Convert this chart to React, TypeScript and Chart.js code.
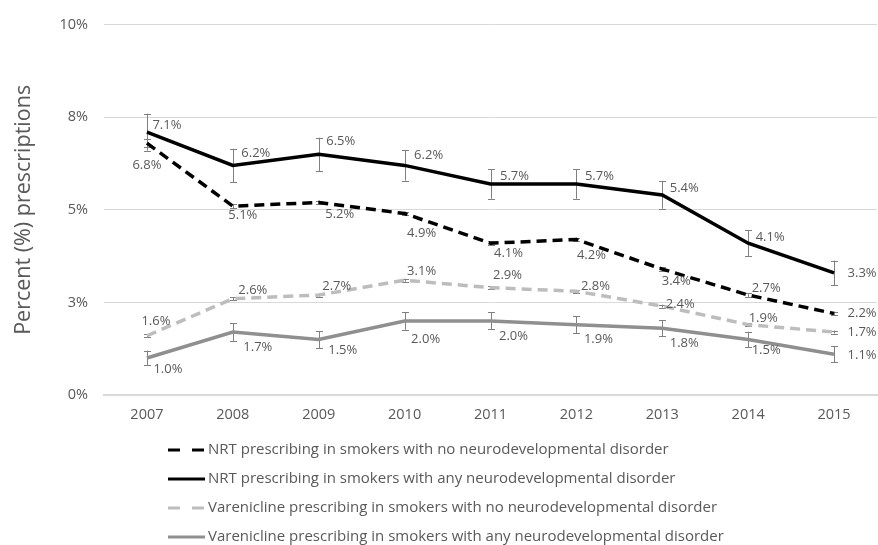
import React, { useEffect, useRef } from "react";
import { Chart, registerables } from "chart.js";

Chart.register(...registerables);

// Years on the x axis
const years = ["2007", "2008", "2009", "2010", "2011", "2012", "2013", "2014", "2015"];

// Percent of smokers prescribed each treatment
const nrtNoNd = [6.8, 5.1, 5.2, 4.9, 4.1, 4.2, 3.4, 2.7, 2.2];
const nrtAnyNd = [7.1, 6.2, 6.5, 6.2, 5.7, 5.7, 5.4, 4.1, 3.3];
const vareniclineNoNd = [1.6, 2.6, 2.7, 3.1, 2.9, 2.8, 2.4, 1.9, 1.7];
const vareniclineAnyNd = [1.0, 1.7, 1.5, 2.0, 2.0, 1.9, 1.8, 1.5, 1.1];

// Half-width of the 95% confidence interval, in percentage points
const nrtNoNdErr = [0.1, 0.05, 0.05, 0.05, 0.05, 0.05, 0.05, 0.05, 0.05];
const nrtAnyNdErr = [0.5, 0.45, 0.45, 0.41, 0.4, 0.4, 0.37, 0.35, 0.33];
const vareniclineNoNdErr = [0.04, 0.04, 0.04, 0.04, 0.04, 0.04, 0.04, 0.04, 0.04];
const vareniclineAnyNdErr = [0.2, 0.24, 0.23, 0.24, 0.23, 0.23, 0.22, 0.21, 0.21];

// Series names shown in the legend
const seriesNames = [
  "NRT prescribing in smokers with no neurodevelopmental disorder",
  "NRT prescribing in smokers with any neurodevelopmental disorder",
  "Varenicline prescribing in smokers with no neurodevelopmental disorder",
  "Varenicline prescribing in smokers with any neurodevelopmental disorder",
];

// Y axis tick values
const yTicks = [0, 2.5, 5, 7.5, 10];

// Value-label placement (label centre relative to the point, px)
const labelOffsets: number[][][] = [
  [[0, 22], [10, 9], [21, 12], [17, 20], [18, 10], [15, 16], [14, 12], [18, -7], [28, 0]],
  [[20, -7], [23, -12], [22, -13], [24, -10], [24, -8], [23, -8], [22, -7], [22, -6], [28, 0]],
  [[9, -14], [20, -8], [18, -9], [17, -9], [17, -12], [19, -5], [18, -2], [15, -6], [28, 0]],
  [[21, 11], [25, 15], [24, 11], [21, 18], [23, 15], [22, 15], [22, 15], [18, 11], [28, 1]],
];

const FONT = "'Open Sans', 'Noto Sans', sans-serif";
const TEXT_COLOR = "#595959";

const errorBarsPlugin = {
  id: "errorBars",
  beforeDatasetsDraw(chart: any) {
    const ctx = chart.ctx;
    const yScale = chart.scales.y;
    const errs = [nrtNoNdErr, nrtAnyNdErr, vareniclineNoNdErr, vareniclineAnyNdErr];
    ctx.save();
    ctx.strokeStyle = "#808080";
    ctx.lineWidth = 1;
    chart.data.datasets.forEach((ds: any, di: number) => {
      const meta = chart.getDatasetMeta(di);
      meta.data.forEach((pt: any, i: number) => {
        const v = ds.data[i];
        const e = errs[di][i];
        const x = Math.round(pt.x) + 0.5;
        const yTop = yScale.getPixelForValue(v + e);
        const yBot = yScale.getPixelForValue(v - e);
        ctx.beginPath();
        ctx.moveTo(x, yTop);
        ctx.lineTo(x, yBot);
        ctx.moveTo(x - 3.5, Math.round(yTop) + 0.5);
        ctx.lineTo(x + 3.5, Math.round(yTop) + 0.5);
        ctx.moveTo(x - 3.5, Math.round(yBot) + 0.5);
        ctx.lineTo(x + 3.5, Math.round(yBot) + 0.5);
        ctx.stroke();
      });
    });
    ctx.restore();
  },
};

const valueLabelsPlugin = {
  id: "valueLabels",
  afterDatasetsDraw(chart: any) {
    const ctx = chart.ctx;
    ctx.save();
    ctx.font = `13px ${FONT}`;
    ctx.fillStyle = TEXT_COLOR;
    ctx.textAlign = "center";
    ctx.textBaseline = "middle";
    chart.data.datasets.forEach((ds: any, di: number) => {
      const meta = chart.getDatasetMeta(di);
      meta.data.forEach((pt: any, i: number) => {
        const [dx, dy] = labelOffsets[di][i];
        ctx.fillText(ds.data[i].toFixed(1) + "%", pt.x + dx, pt.y + dy);
      });
    });
    ctx.restore();
  },
};

const legendPlugin = {
  id: "customLegend",
  afterDraw(chart: any) {
    const ctx = chart.ctx;
    ctx.save();
    ctx.font = `15px ${FONT}`;
    ctx.textBaseline = "middle";
    ctx.textAlign = "left";
    chart.data.datasets.forEach((ds: any, di: number) => {
      const y = 450 + di * 29;
      ctx.strokeStyle = ds.borderColor;
      ctx.lineWidth = 3;
      ctx.setLineDash(ds.borderDash && ds.borderDash.length ? [12, 12] : []);
      ctx.beginPath();
      ctx.moveTo(168, y);
      ctx.lineTo(205, y);
      ctx.stroke();
      ctx.setLineDash([]);
      ctx.fillStyle = TEXT_COLOR;
      ctx.fillText(seriesNames[di], 208, y);
    });
    ctx.restore();
  },
};

export default function App() {
  const canvasRef = useRef<HTMLCanvasElement | null>(null);

  useEffect(() => {
    const canvas = canvasRef.current;
    if (!canvas) return;
    const chart = new Chart(canvas, {
      type: "line",
      data: {
        labels: years,
        datasets: [
          {
            label: seriesNames[0],
            data: nrtNoNd,
            borderColor: "#000000",
            borderWidth: 3.5,
            borderDash: [10, 6],
            pointRadius: 0,
            tension: 0,
            fill: false,
          },
          {
            label: seriesNames[1],
            data: nrtAnyNd,
            borderColor: "#000000",
            borderWidth: 3.5,
            borderDash: [],
            pointRadius: 0,
            tension: 0,
            fill: false,
          },
          {
            label: seriesNames[2],
            data: vareniclineNoNd,
            borderColor: "#bdbdbd",
            borderWidth: 3.5,
            borderDash: [10, 6],
            pointRadius: 0,
            tension: 0,
            fill: false,
          },
          {
            label: seriesNames[3],
            data: vareniclineAnyNd,
            borderColor: "#8f8f8f",
            borderWidth: 3.5,
            borderDash: [],
            pointRadius: 0,
            tension: 0,
            fill: false,
          },
        ],
      },
      options: {
        animation: false,
        responsive: false,
        maintainAspectRatio: false,
        layout: { padding: { top: 18, right: 1, left: 0, bottom: 0 } },
        plugins: {
          legend: { display: false },
          tooltip: { enabled: false },
        },
        scales: {
          x: {
            offset: true,
            grid: { display: false, drawTicks: false },
            border: { color: "#d9d9d9", width: 2 },
            ticks: {
              color: TEXT_COLOR,
              font: { family: FONT, size: 14.5 },
              padding: 11,
              maxRotation: 0,
            },
            afterFit(scale: any) {
              scale.height = 150;
            },
          },
          y: {
            min: 0,
            max: 10,
            afterBuildTicks(scale: any) {
              scale.ticks = yTicks.map((v) => ({ value: v }));
            },
            grid: { color: "#d9d9d9", lineWidth: 1, drawTicks: false },
            border: { display: false },
            ticks: {
              color: TEXT_COLOR,
              font: { family: FONT, size: 14.5 },
              padding: 16,
              callback: (v: any) => Math.round(Number(v)) + "%",
            },
            title: {
              display: true,
              text: "Percent (%) prescriptions",
              color: TEXT_COLOR,
              font: { family: FONT, size: 21.5 },
              padding: { top: 11, bottom: 0 },
            },
            afterFit(scale: any) {
              scale.width = 104;
            },
          },
        },
      },
      plugins: [errorBarsPlugin, valueLabelsPlugin, legendPlugin],
    });
    return () => chart.destroy();
  }, []);

  return (
    <div style={{ position: "fixed", left: 0, top: 0, width: 878, height: 545, background: "#ffffff" }}>
      <canvas ref={canvasRef} width={878} height={545} style={{ display: "block" }} />
    </div>
  );
}
